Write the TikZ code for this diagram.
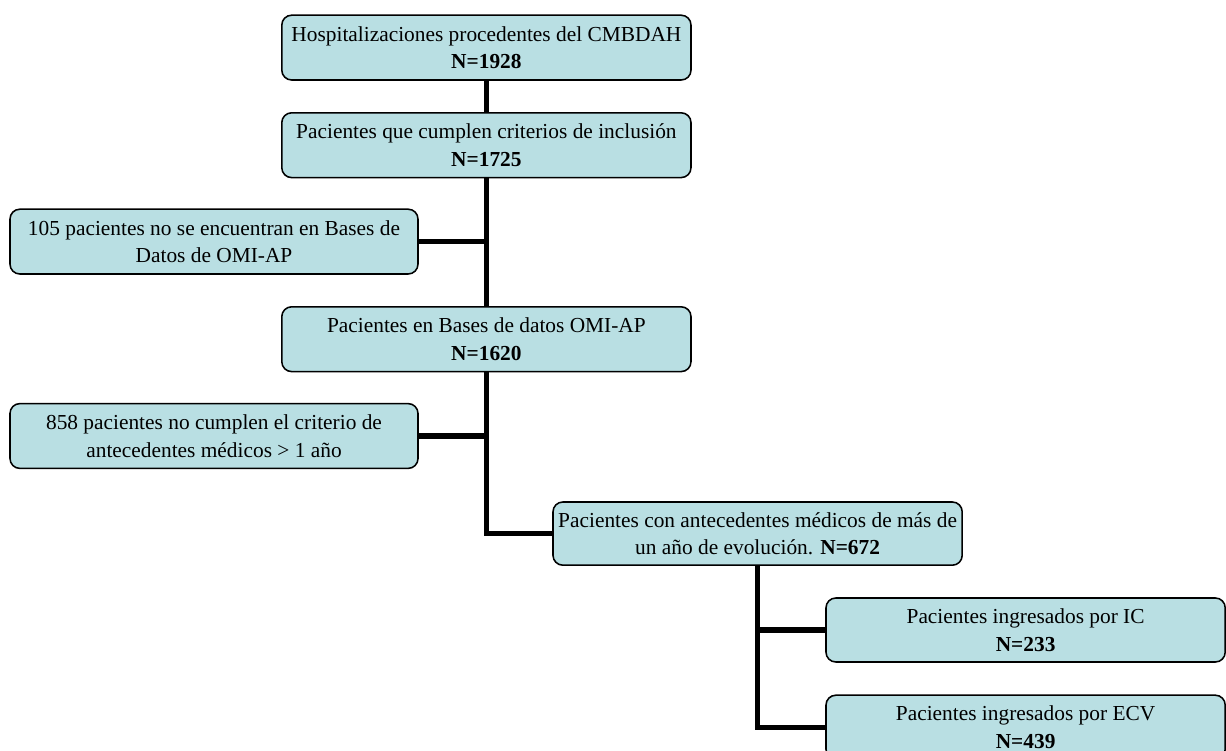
\documentclass[tikz,border=0pt]{standalone}
\usepackage{fontspec}
\setmainfont{Liberation Serif}
\definecolor{fcBox}{HTML}{B9DFE3}
\definecolor{fcLine}{HTML}{000000}
\usepackage{tikz}
\usetikzlibrary{calc,positioning}

\tikzset{
  fcbox/.style={draw=fcLine, fill=fcBox, line width=1.1pt, rounded corners=7pt,
    align=center, inner xsep=2pt, inner ysep=0pt,
    minimum width=10.23cm, minimum height=1.62cm,
    font=\fontsize{15.2}{19.5}\selectfont},
  fcjoin/.style={draw=fcLine, line width=3.6pt}
}

\begin{document}
\begin{tikzpicture}
  \useasboundingbox (0,0) rectangle (30.65,-18.775);
  \clip (0,0) rectangle (30.65,-18.775);

  % main column
  \node[fcbox] (hosp) at (12.16,-1.19) {Hospitalizaciones procedentes del CMBDAH\\\textbf{N=1928}};
  \node[fcbox] (incl) at (12.16,-3.63) {Pacientes que cumplen criterios de inclusión\\\textbf{N=1725}};
  \node[fcbox] (omiAp) at (12.16,-8.48) {Pacientes en Bases de datos OMI-AP\\\textbf{N=1620}};

  % excluded
  \node[fcbox, minimum width=10.2cm] (noOmi) at (5.35,-6.04) {105 pacientes no se encuentran en Bases de\\Datos de OMI-AP};
  \node[fcbox, minimum width=10.2cm] (noAnte) at (5.35,-10.9) {858 pacientes no cumplen el criterio de\\antecedentes médicos > 1 año};

  % final cohort
  \node[fcbox, minimum height=1.58cm] (ante) at (18.94,-13.34) {Pacientes con antecedentes médicos de más de\\un año de evolución. \textbf{N=672}};
  \node[fcbox, minimum width=9.98cm, minimum height=1.6cm] (ingIc) at (25.64,-15.75) {Pacientes ingresados por IC\\\textbf{N=233}};
  \node[fcbox, minimum width=9.98cm, minimum height=1.6cm] (ingEcv) at (25.64,-18.18) {Pacientes ingresados por ECV\\\textbf{N=439}};

  % connectors
  \draw[fcjoin] (hosp.south) -- (incl.north);
  \draw[fcjoin] (incl.south) -- (omiAp.north);
  \draw[fcjoin] (noOmi.east) -- (noOmi.east -| incl.south);
  \draw[fcjoin] (omiAp.south) |- (ante.west);
  \draw[fcjoin] (noAnte.east) -- (noAnte.east -| omiAp.south);
  \draw[fcjoin] (ante.south) |- (ingEcv.west);
  \draw[fcjoin] (ingIc.west) -- (ingIc.west -| ante.south);
\end{tikzpicture}
\end{document}
